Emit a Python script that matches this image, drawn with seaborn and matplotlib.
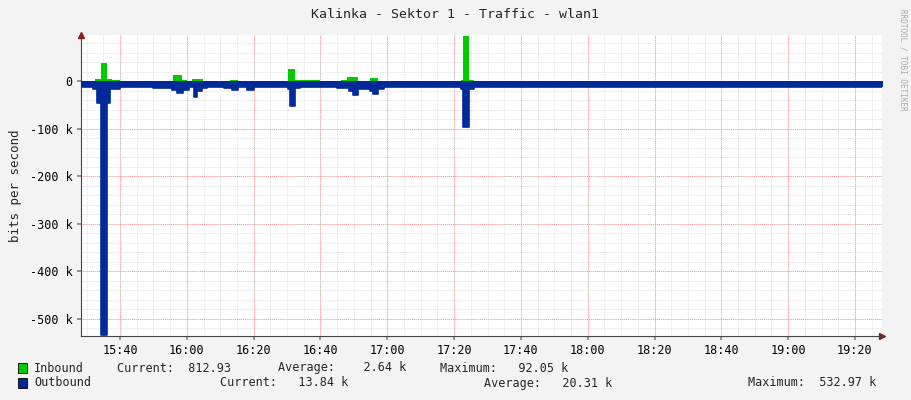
import matplotlib
matplotlib.use("Agg")
import matplotlib.pyplot as plt
import seaborn as sns
import numpy as np

# minutes after 15:00, step breakpoints (value holds until next time), values in kbit/s
in_t = [28.0, 32.5, 34.2, 36.2, 37.5, 40, 44, 52, 55.9, 58.6, 60, 61.6, 64.8, 66, 73, 75.3, 90.3, 92.4, 100, 106, 108, 111.3, 114.9, 117.2, 142.0, 142.7, 144.5, 146, 268.5]
in_v = [0.8, 4, 38, 4, 2, 0.8, 1, 0.8, 12, 3, 1, 5, 1, 0.8, 3, 0.8, 25, 2, 0.8, 2, 8, 1, 6, 0.8, 2, 94, 2, 0.0, 0.0]

out_t = [28.0, 32.0, 33.1, 34.3, 36.1, 37.0, 40, 50, 55.5, 57.0, 58.8, 60.5, 62.0, 63.0, 64.5, 66, 71, 73.5, 75.3, 78, 80, 90.3, 90.8, 92.4, 94, 105, 108.5, 109.6, 111.3, 114.9, 115.8, 117.2, 119, 142.0, 142.7, 144.5, 146, 268.5]
out_v = [12, 16, 45, 533, 45, 16, 12, 14, 18, 25, 18, 12, 33, 20, 14, 12, 14, 18, 13, 18, 12, 16, 52, 14, 12, 14, 20, 30, 16, 20, 28, 16, 12, 16, 96, 16, 12, 12]

tick_min = [40, 60, 80, 100, 120, 140, 160, 180, 200, 220, 240, 260]
tick_lbl = ["15:40", "16:00", "16:20", "16:40", "17:00", "17:20", "17:40",
            "18:00", "18:20", "18:40", "19:00", "19:20"]
y_ticks = [0, -100, -200, -300, -400, -500]
y_lbl = ["0", "-100 k", "-200 k", "-300 k", "-400 k", "-500 k"]

sns.set_theme(style="white")
plt.rcParams["font.family"] = ["DejaVu Sans Mono"]
plt.rcParams["font.size"] = 8.5

fig = plt.figure(figsize=(9.11, 4.0), dpi=100, facecolor="#F3F3F3")
ax = fig.add_axes([81 / 911, 64 / 400, 801 / 911, 301 / 400])
ax.set_facecolor("white")
xmin, xmax = 28.3, 268.1
ymin, ymax = -536, 97

# grid
for m in np.arange(25, 270, 5):
    ax.axvline(m, color="#DDDDDD", lw=0.6, ls=(0, (1, 1)), zorder=0)
for v in np.arange(-520, 100, 20):
    ax.axhline(v, color="#DDDDDD", lw=0.6, ls=(0, (1, 1)), zorder=0)
for m in tick_min:
    ax.axvline(m, color="#FF9A9A", lw=0.7, ls=(0, (1, 1)), zorder=0.5)
for v in y_ticks:
    ax.axhline(v, color="#FF9A9A", lw=0.7, ls=(0, (1, 1)), zorder=0.5)

ax.fill_between(in_t, 0, in_v, step="post", color="#00CC00", lw=0, zorder=2)
ax.fill_between(out_t, 0, [-v for v in out_v], step="post", color="#002A97", lw=0, zorder=3)
sns.lineplot(x=out_t, y=[-v for v in out_v], drawstyle="steps-post", color="#002A97", lw=1.2, ax=ax, zorder=3)

ax.set_xlim(xmin, xmax)
ax.set_ylim(ymin, ymax)
ax.set_xticks(tick_min, tick_lbl)
ax.set_yticks(y_ticks, y_lbl)
ax.tick_params(length=3, color="#888888", labelsize=8.5, pad=3, colors="#000000")
ax.tick_params(axis="both", which="both", direction="out", bottom=True, left=True)
for s in ["top", "right"]:
    ax.spines[s].set_visible(False)
for s in ["bottom", "left"]:
    ax.spines[s].set_color("#444444")
    ax.spines[s].set_linewidth(0.8)
ax.plot(1.0, 0, ">", color="#8B1A1A", ms=4, transform=ax.transAxes, clip_on=False)
ax.plot(0, 1.0, "^", color="#8B1A1A", ms=4, transform=ax.transAxes, clip_on=False)
ax.set_ylabel("bits per second", fontsize=9, labelpad=6)

fig.text(455 / 911, 1 - 14 / 400, "Kalinka - Sektor 1 - Traffic - wlan1", ha="center", va="center", fontsize=9.5)
fig.text(903 / 911, 1 - 60 / 400, "RRDTOOL / TOBI OETIKER", rotation=270, ha="center", va="center",
         fontsize=5.5, color="#AAAAAA")

def sq(x, y, c):
    fig.patches.append(plt.Rectangle((x / 911, 1 - (y + 5) / 400), 9 / 911, 10 / 400, facecolor=c,
                                     edgecolor="black", lw=0.6, transform=fig.transFigure))

sq(18, 368, "#00CC00")
sq(18, 383, "#002A97")
row1 = [(34, "Inbound"), (117, "Current:  812.93"), (278, "Average:    2.64 k"), (440, "Maximum:   92.05 k")]
row2 = [(34, "Outbound"), (220, "Current:   13.84 k"), (484, "Average:   20.31 k"), (748, "Maximum:  532.97 k")]
for x, t in row1:
    fig.text(x / 911, 1 - 368 / 400, t, ha="left", va="center", fontsize=8.5)
for x, t in row2:
    fig.text(x / 911, 1 - 383 / 400, t, ha="left", va="center", fontsize=8.5)

fig.savefig("out.png", dpi=100, facecolor=fig.get_facecolor())
